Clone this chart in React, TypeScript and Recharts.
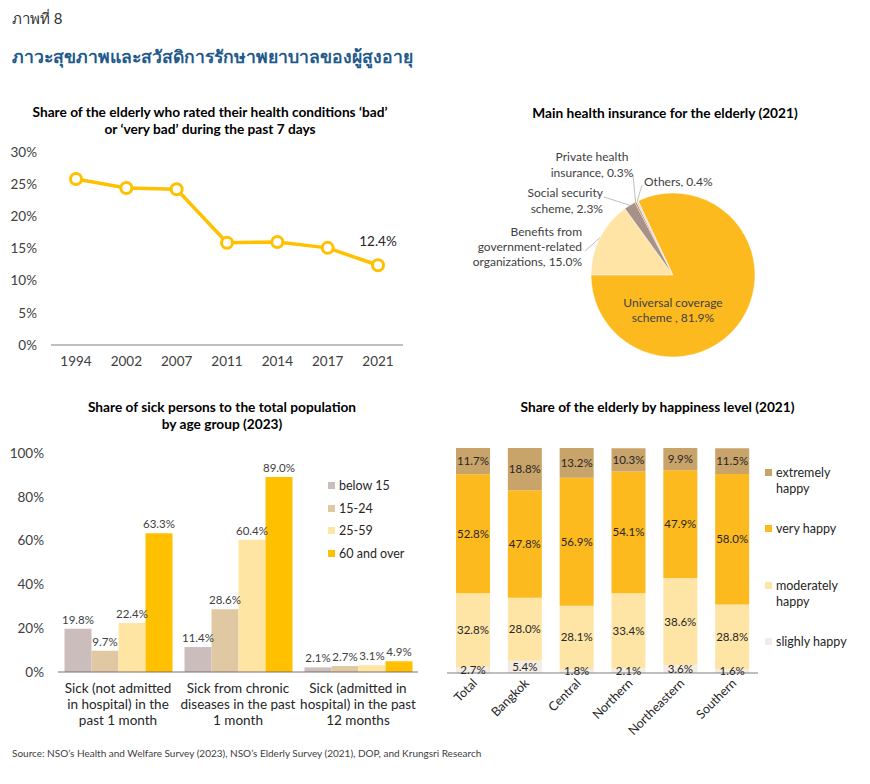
import React from 'react';
import { LineChart, Line, XAxis, YAxis, PieChart, Pie, Cell, BarChart, Bar, LabelList } from 'recharts';

const FONT = 'Lato, "Noto Sans", sans-serif';
const TEXT = '#262626';
const AXIS = '#808080';

// line chart: health rated bad / very bad
const lineYears = ['1994', '2002', '2007', '2011', '2014', '2017', '2021'];
const lineValues = [25.8, 24.4, 24.2, 15.9, 16.0, 15.1, 12.4];
const lineTicks = [0, 5, 10, 15, 20, 25, 30];

// pie: main health insurance
const pieNames = [
  'Benefits from government-related organizations',
  'Social security scheme',
  'Private health insurance',
  'Others',
  'Universal coverage scheme',
];
const pieValues = [15.0, 2.3, 0.3, 0.4, 81.9];
const pieLabelLines = [
  ['Benefits from', 'government-related', 'organizations, 15.0%'],
  ['Social security', 'scheme, 2.3%'],
  ['Private health', 'insurance, 0.3%'],
  ['Others, 0.4%'],
  ['Universal coverage', 'scheme , 81.9%'],
];
const pieColors = ['#FFE4A6', '#A89189', '#C55A11', '#D5DCE4', '#FDBA1F'];

// grouped bars: sick persons by age group
const sickCategories = ['Sick (not admitted in hospital) in the past 1 month', 'Sick from chronic diseases in the past 1 month', 'Sick (admitted in hospital) in the past 12 months'];
const sickCategoryLines = [
  ['Sick (not admitted', 'in hospital) in the', 'past 1 month'],
  ['Sick from chronic', 'diseases in the past', '1 month'],
  ['Sick (admitted in', 'hospital) in the past', '12 months'],
];
const ageGroups = ['below 15', '15-24', '25-59', '60 and over'];
const below15 = [19.8, 11.4, 2.1];
const age15to24 = [9.7, 28.6, 2.7];
const age25to59 = [22.4, 60.4, 3.1];
const age60plus = [63.3, 89.0, 4.9];
const ageColors = ['#CBBDBC', '#DFC8A2', '#FFE5A3', '#FFC000'];
const sickTicks = [0, 20, 40, 60, 80, 100];

// stacked bars: happiness level
const regions = ['Total', 'Bangkok', 'Central', 'Northern', 'Northeastern', 'Southern'];
const happyLevels = ['slighly happy', 'moderately happy', 'very happy', 'extremely happy'];
const slighlyHappy = [2.7, 5.4, 1.8, 2.1, 3.6, 1.6];
const moderatelyHappy = [32.8, 28.0, 28.1, 33.4, 38.6, 28.8];
const veryHappy = [52.8, 47.8, 56.9, 54.1, 47.9, 58.0];
const extremelyHappy = [11.7, 18.8, 13.2, 10.3, 9.9, 11.5];
const happyColors = ['#F3ECE4', '#FFE5A5', '#FDBA1F', '#C9A46A'];

const lineData = lineYears.map((year, i) => ({ year, value: lineValues[i] }));
const pieData = pieNames.map((name, i) => ({ name, value: pieValues[i] }));
const sickSeries = [below15, age15to24, age25to59, age60plus];
const sickData = sickCategories.map((name, i) => {
  const row: any = { name };
  ageGroups.forEach((g, j) => (row[g] = sickSeries[j][i]));
  return row;
});
const happySeries = [slighlyHappy, moderatelyHappy, veryHappy, extremelyHappy];
const happyData = regions.map((name, i) => {
  const row: any = { name };
  happyLevels.forEach((h, j) => (row[h] = happySeries[j][i]));
  return row;
});

const pct = (v: any) => `${Number(v).toFixed(1)}%`;

// where each pie label sits, relative to the pie centre
const pieLabelPlacement = [
  { dx: -91, dy: -44, gap: 15, anchor: 'end', lineTo: [-88, -24] },
  { dx: -70, dy: -83, gap: 16, anchor: 'end', lineTo: [-69, -78] },
  { dx: -81, dy: -119, gap: 16, anchor: 'middle', lineTo: [-40, -100] },
  { dx: -29, dy: -94, gap: 16, anchor: 'start', lineTo: [-31, -90] },
  { dx: 0, dy: 27, gap: 15, anchor: 'middle', lineTo: null },
];

const renderPieLabel = (props: any) => {
  const { cx, cy, midAngle, outerRadius, index } = props;
  const p = pieLabelPlacement[index];
  const rad = (Math.PI / 180) * midAngle;
  const ex = cx + outerRadius * Math.cos(rad);
  const ey = cy - outerRadius * Math.sin(rad);
  return (
    <g key={`pl-${index}`}>
      {p.lineTo && (
        <line x1={ex} y1={ey} x2={cx + p.lineTo[0]} y2={cy + p.lineTo[1]} stroke="#BFBFBF" strokeWidth={1} />
      )}
      <text x={cx + p.dx} y={cy + p.dy} textAnchor={p.anchor} fontSize={12} fill="#404040" fontFamily={FONT} dominantBaseline="central">
        {pieLabelLines[index].map((l, i) => (
          <tspan key={i} x={cx + p.dx} dy={i === 0 ? 0 : p.gap}>{l}</tspan>
        ))}
      </text>
    </g>
  );
};

const LastPointLabel = (props: any) => {
  const { x, y, index, value } = props;
  if (index !== lineValues.length - 1) return null;
  return (
    <text x={x} y={y - 19} textAnchor="middle" fontSize={13.5} fill={TEXT} fontFamily={FONT}>{pct(value)}</text>
  );
};

const SickTick = (props: any) => {
  const { x, y, payload } = props;
  const lines = sickCategoryLines[payload.index] || [];
  return (
    <text x={x} y={y} textAnchor="middle" fontSize={13.5} fill={TEXT} fontFamily={FONT}>
      {lines.map((l, i) => (
        <tspan key={i} x={x} dy={i === 0 ? 21 : 16}>{l}</tspan>
      ))}
    </text>
  );
};

const RegionTick = (props: any) => {
  const { x, y, payload } = props;
  const tx = x + 5;
  const ty = y + 11;
  return (
    <text x={tx} y={ty} transform={`rotate(-45, ${tx}, ${ty})`} textAnchor="end" fontSize={12.5} fill={TEXT} fontFamily={FONT}>
      {payload.value}
    </text>
  );
};

const titleStyle: React.CSSProperties = {
  position: 'absolute',
  fontFamily: FONT,
  fontWeight: 700,
  fontSize: 13.7,
  color: '#000',
  textAlign: 'center',
  lineHeight: '17px',
};

const tickStyle = { fontSize: 13.5, fill: '#404040', fontFamily: FONT };

export default function App() {
  return (
    <div style={{ position: 'absolute', left: 0, top: 0, width: 870, height: 784, background: '#fff', fontFamily: FONT, overflow: 'hidden' }}>
      <div style={{ position: 'absolute', left: 12, top: 7, fontSize: 15, color: '#333' }}>ภาพที่ 8</div>
      <div style={{ position: 'absolute', left: 12, top: 43, fontSize: 17.6, color: '#1F5A8C', fontWeight: 600 }}>
        ภาวะสุขภาพและสวัสดิการรักษาพยาบาลของผู้สูงอายุ
      </div>

      {/* line chart */}
      <div style={{ ...titleStyle, left: 0, width: 420, top: 103 }}>
        Share of the elderly who rated their health conditions ‘bad’
        <br />
        or ‘very bad’ during the past 7 days
      </div>
      <div style={{ position: 'absolute', left: 0, top: 140 }}>
        <LineChart width={420} height={240} data={lineData} margin={{ top: 12, right: 17, left: 0, bottom: 10 }}>
          <XAxis dataKey="year" height={25} padding={{ left: 25, right: 25 }} tickLine={false} axisLine={{ stroke: AXIS, strokeWidth: 1.2 }} tickSize={0} tickMargin={11} tick={tickStyle} interval={0} />
          <YAxis width={51} domain={[0, 30]} ticks={lineTicks} tickFormatter={(v) => `${v}%`} tickLine={false} axisLine={false} tickSize={0} tickMargin={14} tick={tickStyle} />
          <Line
            dataKey="value"
            stroke="#FFC000"
            strokeWidth={3.5}
            dot={{ r: 5.5, fill: '#fff', stroke: '#FFC000', strokeWidth: 3 }}
            isAnimationActive={false}
            label={<LastPointLabel />}
          />
        </LineChart>
      </div>

      {/* pie chart */}
      <div style={{ ...titleStyle, left: 440, width: 450, top: 104 }}>Main health insurance for the elderly (2021)</div>
      <div style={{ position: 'absolute', left: 440, top: 90 }}>
        <PieChart width={430} height={290}>
          <Pie
            data={pieData}
            dataKey="value"
            nameKey="name"
            cx={228}
            cy={180}
            outerRadius={82}
            startAngle={180}
            endAngle={-180}
            stroke="#fff"
            strokeWidth={0.5}
            label={renderPieLabel}
            labelLine={false}
            isAnimationActive={false}
          >
            {pieData.map((d, i) => (
              <Cell key={d.name} fill={pieColors[i]} />
            ))}
          </Pie>
        </PieChart>
      </div>

      {/* grouped bar chart */}
      <div style={{ ...titleStyle, left: 0, width: 444, top: 398 }}>
        Share of sick persons to the total population
        <br />
        by age group (2023)
      </div>
      <div style={{ position: 'absolute', left: 0, top: 440 }}>
        <BarChart width={430} height={300} data={sickData} margin={{ top: 13, right: 12, left: 0, bottom: 8 }} barGap={0} barCategoryGap={6.5}>
          <XAxis dataKey="name" height={60} tickLine={false} axisLine={{ stroke: '#7F6F6F', strokeWidth: 1.2 }} tickSize={0} tickMargin={0} tick={<SickTick />} interval={0} />
          <YAxis width={58} domain={[0, 100]} ticks={sickTicks} tickFormatter={(v) => `${v}%`} tickLine={false} axisLine={false} tickSize={0} tickMargin={14} tick={tickStyle} />
          {ageGroups.map((g, i) => (
            <Bar key={g} dataKey={g} fill={ageColors[i]} isAnimationActive={false}>
              <LabelList dataKey={g} position="top" offset={5} formatter={pct} style={{ fontSize: 11.5, fill: '#404040', fontFamily: FONT }} />
            </Bar>
          ))}
        </BarChart>
      </div>
      {ageGroups.map((g, i) => (
        <div key={g} style={{ position: 'absolute', left: 328, top: 478 + i * 22.7, display: 'flex', alignItems: 'center', fontSize: 12.5, color: TEXT }}>
          <span style={{ width: 7, height: 7, background: ageColors[i], marginRight: 4, display: 'inline-block' }} />
          {g}
        </div>
      ))}

      {/* stacked bar chart */}
      <div style={{ ...titleStyle, left: 430, width: 455, top: 398 }}>Share of the elderly by happiness level (2021)</div>
      <div style={{ position: 'absolute', left: 430, top: 440 }}>
        <BarChart width={440} height={330} data={happyData} margin={{ top: 8, right: 112, left: 17, bottom: 7 }} barCategoryGap={9}>
          <XAxis dataKey="name" height={90} tickLine={false} axisLine={{ stroke: AXIS, strokeWidth: 1.2 }} tickSize={0} tickMargin={0} tick={<RegionTick />} interval={0} />
          <YAxis hide domain={[0, 100]} allowDataOverflow />
          {happyLevels.map((h, i) => (
            <Bar key={h} dataKey={h} stackId="a" fill={happyColors[i]} isAnimationActive={false}>
              <LabelList dataKey={h} position="center" formatter={pct} style={{ fontSize: 11.5, fill: TEXT, fontFamily: FONT }} />
            </Bar>
          ))}
        </BarChart>
      </div>
      {happyLevels
        .map((h, i) => ({ h, i }))
        .reverse()
        .map(({ h, i }, k) => (
          <div key={h} style={{ position: 'absolute', left: 765, top: 465 + k * 56.3, width: 82, display: 'flex', alignItems: 'flex-start', fontSize: 12.5, color: TEXT, lineHeight: '16px' }}>
            <span style={{ width: 7, height: 7, background: happyColors[i], marginRight: 4, marginTop: 4, flex: 'none', display: 'inline-block' }} />
            <span>{h}</span>
          </div>
        ))}

      <div style={{ position: 'absolute', left: 12, top: 747, fontSize: 10, color: '#404040' }}>
        Source: NSO’s Health and Welfare Survey (2023), NSO’s Elderly Survey (2021), DOP, and Krungsri Research
      </div>
    </div>
  );
}
